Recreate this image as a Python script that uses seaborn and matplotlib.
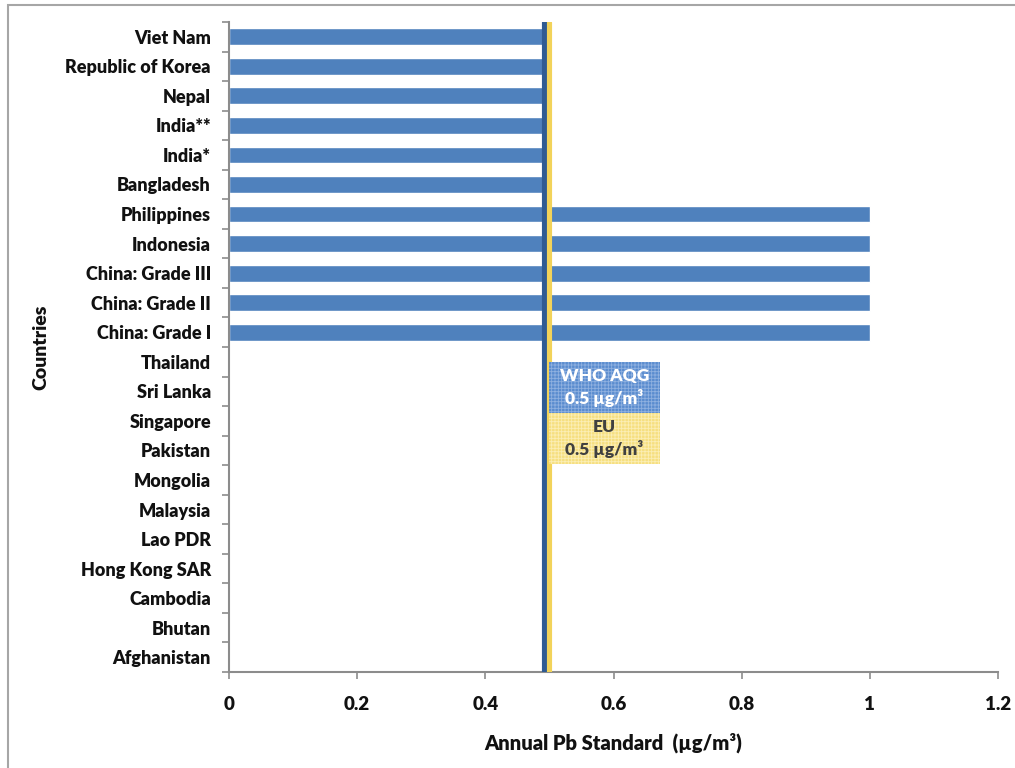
import matplotlib
matplotlib.use("Agg")
import matplotlib.pyplot as plt
import matplotlib.transforms as mtransforms
from matplotlib.patches import Rectangle
from matplotlib.ticker import FixedLocator
import numpy as np
import pandas as pd
import seaborn as sns

# Annual lead (Pb) standards by country, top to bottom
countries = [
    "Viet Nam", "Republic of Korea", "Nepal", "India**", "India*", "Bangladesh",
    "Philippines", "Indonesia", "China: Grade III", "China: Grade II", "China: Grade I",
    "Thailand", "Sri Lanka", "Singapore", "Pakistan", "Mongolia", "Malaysia",
    "Lao PDR", "Hong Kong SAR", "Cambodia", "Bhutan", "Afghanistan",
]
pb_standard = [
    0.5, 0.5, 0.5, 0.5, 0.5, 0.5,
    1.0, 1.0, 1.0, 1.0, 1.0,
    0, 0, 0, 0, 0, 0, 0, 0, 0, 0, 0,
]
who_aqg = 0.5
eu_limit = 0.5
x_ticks = [0, 0.2, 0.4, 0.6, 0.8, 1, 1.2]
x_tick_labels = ["0", "0.2", "0.4", "0.6", "0.8", "1", "1.2"]

df = pd.DataFrame({"Country": countries, "Pb": pb_standard})

WEIGHT = "heavy"

sns.set_theme(style="white")
plt.rcParams["font.family"] = ["Lato", "DejaVu Sans"]
plt.rcParams["font.weight"] = WEIGHT

fig = plt.figure(figsize=(10.15, 7.68), dpi=100)
ax = fig.add_axes([229 / 1015, 1 - 672 / 768, (998 - 229) / 1015, (672 - 22) / 768])

sns.barplot(data=df, x="Pb", y="Country", order=countries, orient="h",
            color="#4f81bd", saturation=1, width=0.57, ax=ax, zorder=2)

# Guideline lines: WHO (dark blue) beside EU (yellow), both at 0.5
shift = mtransforms.ScaledTranslation(-5 / 100, 0, fig.dpi_scale_trans)
who_line = ax.axvline(who_aqg, color="#2f5b93", lw=3.7, zorder=3)
who_line.set_transform(ax.get_xaxis_transform() + shift)
ax.axvline(eu_limit, color="#f2d35a", lw=3.7, zorder=3)

ax.set_xlim(0, 1.2)
ax.set_ylim(len(countries) - 0.5, -0.5)
ax.set_xticks(x_ticks)
ax.set_xticklabels(x_tick_labels)

# category boundaries carry the y tick marks
ax.yaxis.set_minor_locator(FixedLocator(np.arange(-0.5, len(countries), 1.0)))
ax.tick_params(axis="y", which="major", length=0, pad=13, labelsize=13, labelcolor="#111111")
ax.tick_params(axis="y", which="minor", length=5, width=1.2, color="#8c8c8c", left=True)
ax.tick_params(axis="x", which="major", length=5, width=1.2, color="#8c8c8c", bottom=True,
               pad=12, labelsize=13.5, labelcolor="#111111")
for lab in ax.get_yticklabels() + ax.get_xticklabels():
    lab.set_fontweight(WEIGHT)

for side in ("top", "right"):
    ax.spines[side].set_visible(False)
for side in ("left", "bottom"):
    ax.spines[side].set_color("#8c8c8c")
    ax.spines[side].set_linewidth(1.5)

ax.set_xlabel("Annual Pb Standard  (\u00b5g/m\u00b3)", fontsize=14.5, fontweight=WEIGHT,
              labelpad=14, color="#111111")
ax.set_ylabel("Countries", fontsize=14, fontweight=WEIGHT, color="#111111")
ax.yaxis.set_label_coords(-0.233, 0.5)

# Guideline boxes
plt.rcParams["hatch.linewidth"] = 0.6
bx0, bx1 = 0.5 / 1.2, 0.672 / 1.2
y_who = (0.3985, 0.477)
y_eu = (0.32, 0.3985)
ax.add_patch(Rectangle((bx0, y_who[0]), bx1 - bx0, y_who[1] - y_who[0], transform=ax.transAxes,
                       facecolor="#5a8ccf", edgecolor="#8fb1e0", hatch="+++++", lw=0, zorder=4))
ax.add_patch(Rectangle((bx0, y_eu[0]), bx1 - bx0, y_eu[1] - y_eu[0], transform=ax.transAxes,
                       facecolor="#f6df80", edgecolor="#fbeeb5", hatch="+++++", lw=0, zorder=4))
ax.text((bx0 + bx1) / 2, sum(y_who) / 2, "WHO AQG\n0.5 \u00b5g/m\u00b3", transform=ax.transAxes,
        ha="center", va="center", color="white", fontsize=12.5, fontweight=WEIGHT,
        linespacing=1.3, zorder=5)
ax.text((bx0 + bx1) / 2, sum(y_eu) / 2, "EU\n0.5 \u00b5g/m\u00b3", transform=ax.transAxes,
        ha="center", va="center", color="#404040", fontsize=12.5, fontweight=WEIGHT,
        linespacing=1.3, zorder=5)

# chart area outline
fig.patches.append(Rectangle((8 / 1015, -0.01), 1.02, 1 - 5 / 768 + 0.01, transform=fig.transFigure,
                             fill=False, edgecolor="#a6a6a6", lw=1.5, zorder=0))

fig.savefig("out.png", dpi=100)
